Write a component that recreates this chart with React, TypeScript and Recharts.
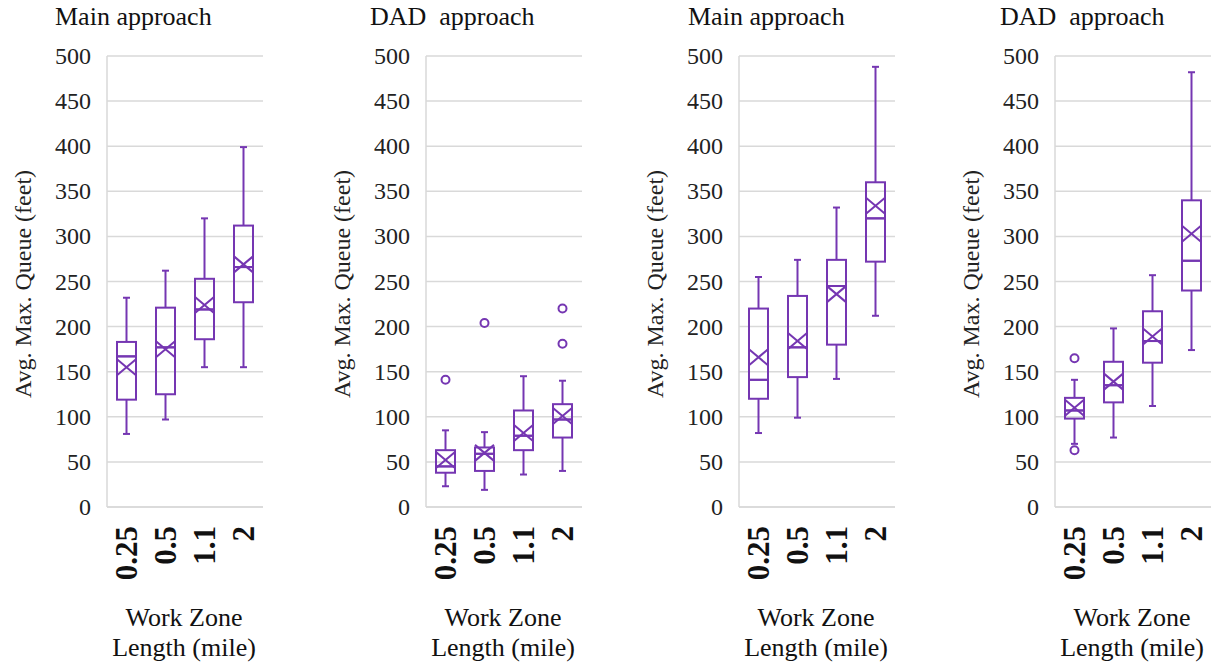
import React from "react";
import { ComposedChart, Bar, Scatter, XAxis, YAxis, CartesianGrid } from "recharts";

const categories = ["0.25", "0.5", "1.1", "2"];
const yTicks = [0, 50, 100, 150, 200, 250, 300, 350, 400, 450, 500];

// panel 1 - Main approach (left)
const p1Min = [81, 97, 155, 155];
const p1Q1 = [119, 125, 186, 227];
const p1Med = [167, 177, 219, 266];
const p1Q3 = [183, 221, 253, 312];
const p1Max = [232, 262, 320, 399];
const p1Mean = [155, 175, 224, 269];

// panel 2 - DAD approach (left)
const p2Min = [23, 19, 36, 40];
const p2Q1 = [38, 40, 63, 77];
const p2Med = [45, 59, 79, 97];
const p2Q3 = [63, 66, 107, 114];
const p2Max = [85, 83, 145, 140];
const p2Mean = [52, 60, 82, 101];
const p2Out1 = [141, 204, null, 181];
const p2Out2 = [null, null, null, 220];

// panel 3 - Main approach (right)
const p3Min = [82, 99, 142, 212];
const p3Q1 = [120, 144, 180, 272];
const p3Med = [141, 177, 245, 320];
const p3Q3 = [220, 234, 274, 360];
const p3Max = [255, 274, 332, 488];
const p3Mean = [166, 184, 236, 334];

// panel 4 - DAD approach (right)
const p4Min = [70, 77, 112, 174];
const p4Q1 = [98, 116, 160, 240];
const p4Med = [107, 135, 184, 273];
const p4Q3 = [121, 161, 217, 340];
const p4Max = [141, 198, 257, 482];
const p4Mean = [110, 139, 189, 303];
const p4Out1 = [165, null, null, null];
const p4Out2 = [63, null, null, null];

const none = [null, null, null, null];

const PURPLE = "#7536b2";
const GRID = "#d9d9d9";
const SERIF = { fontFamily: "'Liberation Serif'" };

function buildRows(min, q1, med, q3, max, mean, out1 = none, out2 = none) {
  // stacked segments: base, lower whisker, lower box, upper box, upper whisker
  return categories.map((cat, i) => ({
    cat,
    base: min[i],
    lw: q1[i] - min[i],
    lb: med[i] - q1[i],
    ub: q3[i] - med[i],
    uw: max[i] - q3[i],
    mean: mean[i],
    out1: out1[i],
    out2: out2[i],
  }));
}

const EmptyShape = () => <g />;

const LowWhisker = (p: any) => {
  const cx = p.x + p.width / 2;
  const yb = p.y + p.height;
  return (
    <g stroke={PURPLE} strokeWidth={2}>
      <line x1={cx} x2={cx} y1={p.y} y2={yb} />
      <line x1={cx - 3.5} x2={cx + 3.5} y1={yb} y2={yb} />
    </g>
  );
};

const HighWhisker = (p: any) => {
  const cx = p.x + p.width / 2;
  return (
    <g stroke={PURPLE} strokeWidth={2}>
      <line x1={cx} x2={cx} y1={p.y} y2={p.y + p.height} />
      <line x1={cx - 3.5} x2={cx + 3.5} y1={p.y} y2={p.y} />
    </g>
  );
};

const BoxShape = (p: any) => (
  <rect x={p.x} y={p.y} width={p.width} height={p.height} fill="none" stroke={PURPLE} strokeWidth={2} />
);

const MeanShape = (p: any) => {
  const { cx, cy } = p;
  return (
    <g stroke={PURPLE} strokeWidth={2}>
      <line x1={cx - 9.5} y1={cy - 8} x2={cx + 9.5} y2={cy + 8} />
      <line x1={cx - 9.5} y1={cy + 8} x2={cx + 9.5} y2={cy - 8} />
    </g>
  );
};

const outlierShape = (key: string) => (p: any) => {
  if (p.payload == null || p.payload[key] == null) return <g />;
  return <circle cx={p.cx} cy={p.cy} r={4} fill="#fff" stroke={PURPLE} strokeWidth={2} />;
};

const XTick = (p: any) => (
  <text
    transform={`translate(${p.x + 10},${p.y + 19}) rotate(-90)`}
    textAnchor="end"
    fontSize={31}
    fontWeight="bold"
    style={SERIF}
    fill="#111"
  >
    {p.payload.value}
  </text>
);

const YTick = (p: any) => (
  <text x={p.x} y={p.y} dy={8} textAnchor="end" fontSize={24} style={SERIF} fill="#222">
    {p.payload.value}
  </text>
);

const AXIS_W = 107;
const CHART_W = 268;
const CHART_H = 668;

function Panel({ plotLeft, title, titleDx, rows }: any) {
  return (
    <div style={{ position: "absolute", left: plotLeft - AXIS_W, top: 0, width: CHART_W, height: CHART_H }}>
      <ComposedChart width={CHART_W} height={CHART_H} data={rows} margin={{ top: 56, right: 5, bottom: 0, left: 0 }}>
        <CartesianGrid vertical={false} stroke={GRID} strokeWidth={1.5} />
        <XAxis
          dataKey="cat"
          type="category"
          interval={0}
          height={161}
          tickLine={false}
          tickSize={0}
          tickMargin={0}
          axisLine={{ stroke: GRID, strokeWidth: 1.5 }}
          tick={XTick}
        />
        <YAxis
          type="number"
          domain={[0, 500]}
          ticks={yTicks}
          interval={0}
          width={AXIS_W}
          tickLine={false}
          tickSize={0}
          tickMargin={16}
          axisLine={{ stroke: GRID, strokeWidth: 1.5 }}
          tick={YTick}
        />
        <Bar dataKey="base" stackId="b" barSize={19} shape={EmptyShape} isAnimationActive={false} />
        <Bar dataKey="lw" stackId="b" barSize={19} shape={LowWhisker} isAnimationActive={false} />
        <Bar dataKey="lb" stackId="b" barSize={19} shape={BoxShape} isAnimationActive={false} />
        <Bar dataKey="ub" stackId="b" barSize={19} shape={BoxShape} isAnimationActive={false} />
        <Bar dataKey="uw" stackId="b" barSize={19} shape={HighWhisker} isAnimationActive={false} />
        <Scatter dataKey="mean" shape={MeanShape} isAnimationActive={false} />
        <Scatter dataKey="out1" shape={outlierShape("out1")} isAnimationActive={false} />
        <Scatter dataKey="out2" shape={outlierShape("out2")} isAnimationActive={false} />
      </ComposedChart>
      <svg
        width={CHART_W}
        height={CHART_H}
        style={{ position: "absolute", left: 0, top: 0, pointerEvents: "none" }}
      >
        <text x={AXIS_W + titleDx} y={25} fontSize={26} fill="#111" style={{ ...SERIF, whiteSpace: "pre" }}>
          {title}
        </text>
        <text transform="translate(31,284) rotate(-90)" textAnchor="middle" fontSize={24} fill="#222" style={SERIF}>
          Avg. Max. Queue (feet)
        </text>
        <text x={AXIS_W + 77} y={626} textAnchor="middle" fontSize={26} fill="#111" style={SERIF}>
          Work Zone
        </text>
        <text x={AXIS_W + 77} y={656} textAnchor="middle" fontSize={26} fill="#111" style={SERIF}>
          Length (mile)
        </text>
      </svg>
    </div>
  );
}

export default function App() {
  const rows1 = buildRows(p1Min, p1Q1, p1Med, p1Q3, p1Max, p1Mean);
  const rows2 = buildRows(p2Min, p2Q1, p2Med, p2Q3, p2Max, p2Mean, p2Out1, p2Out2);
  const rows3 = buildRows(p3Min, p3Q1, p3Med, p3Q3, p3Max, p3Mean);
  const rows4 = buildRows(p4Min, p4Q1, p4Med, p4Q3, p4Max, p4Mean, p4Out1, p4Out2);

  return (
    <div
      style={{
        position: "absolute",
        left: 0,
        top: 0,
        width: 1216,
        height: 668,
        background: "#fff",
        overflow: "hidden",
      }}
    >
      <Panel plotLeft={107} title="Main approach" titleDx={-52} rows={rows1} />
      <Panel plotLeft={426} title="DAD  approach" titleDx={-56} rows={rows2} />
      <Panel plotLeft={739} title="Main approach" titleDx={-51} rows={rows3} />
      <Panel plotLeft={1055} title="DAD  approach" titleDx={-55} rows={rows4} />
    </div>
  );
}
